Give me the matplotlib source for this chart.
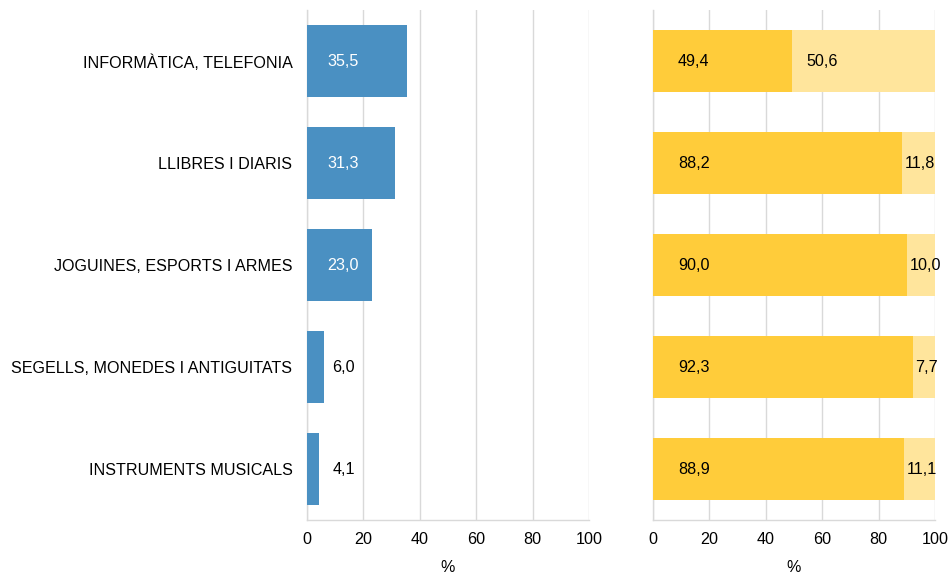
import matplotlib.pyplot as plt

plt.rcParams['font.family'] = ['Liberation Sans', 'DejaVu Sans']

# Dades
categories = ['INFORMÀTICA, TELEFONIA', 'LLIBRES I DIARIS', 'JOGUINES, ESPORTS I ARMES',
              'SEGELLS, MONEDES I ANTIGUITATS', 'INSTRUMENTS MUSICALS']
total = [35.5, 31.3, 23.0, 6.0, 4.1]
part_a = [49.4, 88.2, 90.0, 92.3, 88.9]
part_b = [50.6, 11.8, 10.0, 7.7, 11.1]
ticks = [0, 20, 40, 60, 80, 100]

blue = '#4A90C2'
yellow = '#FFCC3A'
light = '#FFE59C'
grid = '#D9D9D9'
fs = 11.6

fig = plt.figure(figsize=(9.52, 5.74), dpi=100)
ax1 = fig.add_axes([307 / 952, 54 / 574, 282 / 952, 510 / 574])
ax2 = fig.add_axes([653 / 952, 54 / 574, 282 / 952, 510 / 574])

y = list(range(len(categories)))

# Gràfic esquerre
ax1.barh(y, total, height=0.7, color=blue, zorder=3)
for i, v in enumerate(total):
    txt = f'{v:.1f}'.replace('.', ',')
    if v > 15:
        ax1.text(12.7, i, txt, color='white', fontsize=fs, ha='center', va='center', zorder=4)
    else:
        ax1.text(9, i, txt, color='black', fontsize=fs, ha='left', va='center', zorder=4)
ax1.set_yticks(y)
ax1.set_yticklabels(categories, fontsize=fs)

# Gràfic dret
ax2.barh(y, part_a, height=0.6, color=yellow, zorder=3)
ax2.barh(y, part_b, left=part_a, height=0.6, color=light, zorder=3)
for i, (a, b) in enumerate(zip(part_a, part_b)):
    ax2.text(8.8, i, f'{a:.1f}'.replace('.', ','), fontsize=fs,
             ha='left', va='center', zorder=4)
    ax2.text(a + 0.1 * b, i, f'{b:.1f}'.replace('.', ','), fontsize=fs,
             ha='left', va='center', zorder=4)
ax2.set_yticks([])

for ax in (ax1, ax2):
    ax.set_xlim(0, 100)
    ax.set_ylim(4.5, -0.5)
    ax.set_xticks(ticks)
    ax.set_xticklabels([str(t) for t in ticks], fontsize=fs)
    ax.tick_params(length=0, axis='x', pad=9)
    ax.tick_params(length=0, axis='y', pad=10.5)
    ax.grid(axis='x', color=grid, linewidth=1, zorder=0)
    for s in ('top', 'right'):
        ax.spines[s].set_visible(False)
    for s in ('left', 'bottom'):
        ax.spines[s].set_color(grid)
        ax.spines[s].set_linewidth(1)
    ax.set_xlabel('%', fontsize=fs, labelpad=9)

fig.savefig('out.png', dpi=100)
